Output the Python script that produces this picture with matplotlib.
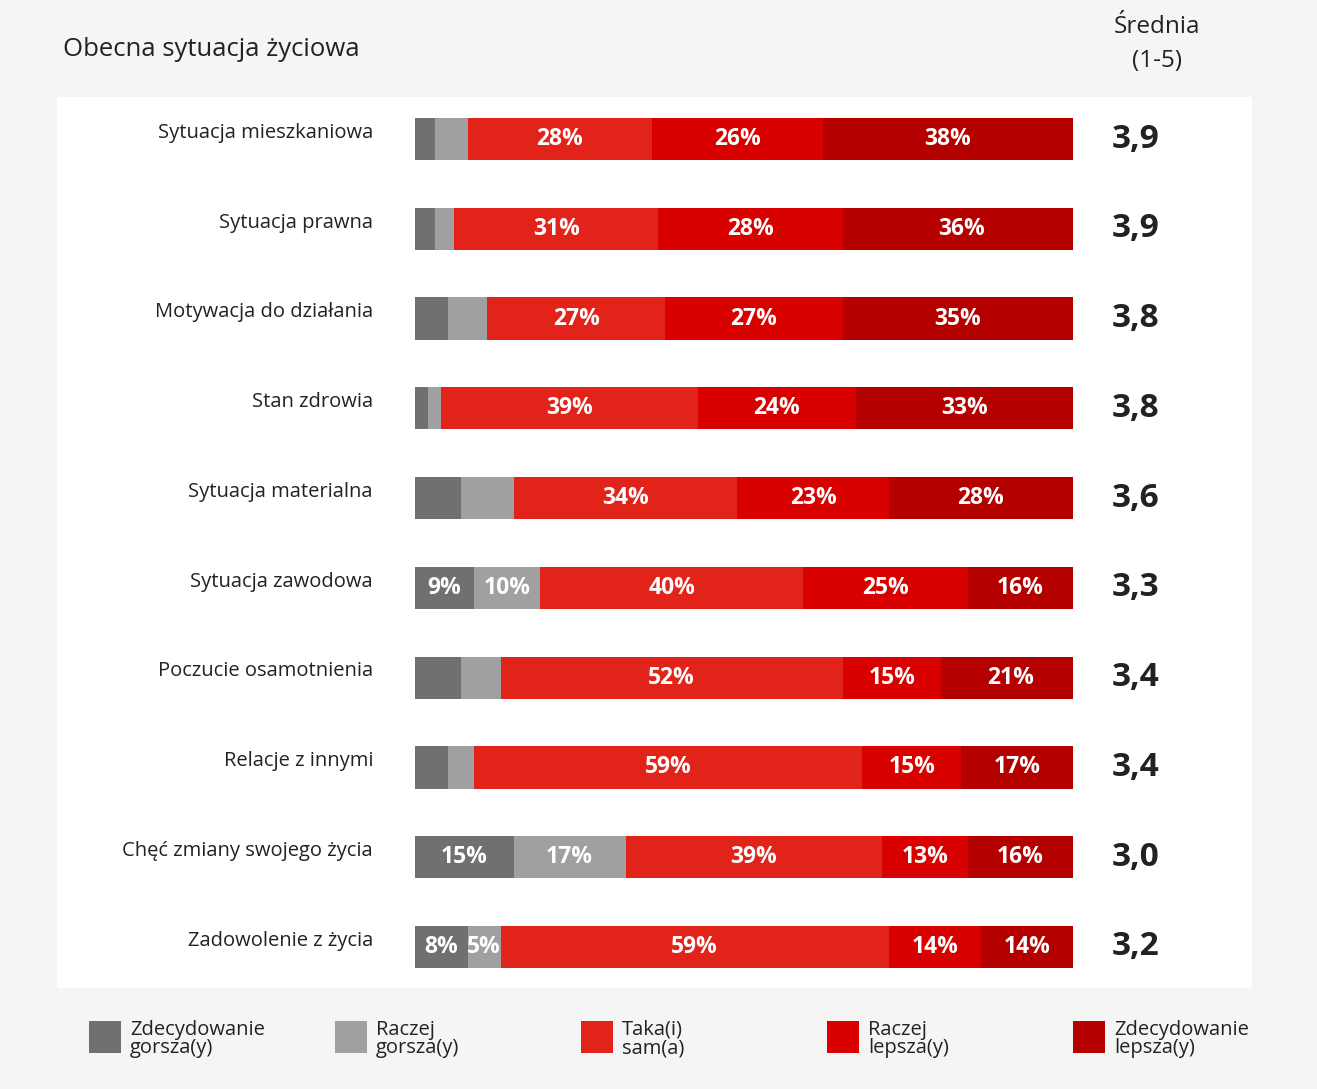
import matplotlib.pyplot as plt
from matplotlib.patches import Rectangle

plt.rcParams['font.family'] = ['Open Sans', 'DejaVu Sans']

kategorie = [
    "Sytuacja mieszkaniowa",
    "Sytuacja prawna",
    "Motywacja do działania",
    "Stan zdrowia",
    "Sytuacja materialna",
    "Sytuacja zawodowa",
    "Poczucie osamotnienia",
    "Relacje z innymi",
    "Chęć zmiany swojego życia",
    "Zadowolenie z życia",
]

zdec_gorsza = [3, 3, 5, 2, 7, 9, 7, 5, 15, 8]
raczej_gorsza = [5, 3, 6, 2, 8, 10, 6, 4, 17, 5]
taka_sama = [28, 31, 27, 39, 34, 40, 52, 59, 39, 59]
raczej_lepsza = [26, 28, 27, 24, 23, 25, 15, 15, 13, 14]
zdec_lepsza = [38, 36, 35, 33, 28, 16, 21, 17, 16, 14]

srednia = ["3,9", "3,9", "3,8", "3,8", "3,6", "3,3", "3,4", "3,4", "3,0", "3,2"]

# w których wierszach pokazane są etykiety szarych segmentów
etykiety_szare = [False, False, False, False, False, True, False, False, True, True]

legenda = [
    "Zdecydowanie\ngorsza(y)",
    "Raczej\ngorsza(y)",
    "Taka(i)\nsam(a)",
    "Raczej\nlepsza(y)",
    "Zdecydowanie\nlepsza(y)",
]
kolory = ["#707070", "#a0a0a0", "#e2231a", "#d90000", "#b50000"]

W, H = 1317, 1089
fig = plt.figure(figsize=(W / 100, H / 100), dpi=100)
fig.patch.set_facecolor("#f5f5f5")

# białe tło panelu
fig.patches.append(Rectangle((57 / W, 1 - 988 / H), (1252 - 57) / W, (988 - 97) / H,
                             transform=fig.transFigure, facecolor="white",
                             edgecolor="none", zorder=-5))

ax = fig.add_axes([415 / W, 1 - 988 / H, 658 / W, (988 - 97) / H])
ax.set_zorder(2)
ax.set_facecolor("none")
ax.set_xlim(0, 100)
ax.set_ylim(9.457, -0.468)
ax.axis("off")

serie = [zdec_gorsza, raczej_gorsza, taka_sama, raczej_lepsza, zdec_lepsza]
y = list(range(len(kategorie)))
lewo = [0] * len(kategorie)
for k, (wart, kol) in enumerate(zip(serie, kolory)):
    ax.barh(y, wart, left=lewo, height=0.47, color=kol, edgecolor="none")
    for i, v in enumerate(wart):
        if k >= 2 or etykiety_szare[i]:
            ax.text(lewo[i] + v / 2, i, f"{v}%", ha="center", va="center",
                    color="white", fontsize=16.5, fontweight="bold")
    lewo = [a + b for a, b in zip(lewo, wart)]

for i, nazwa in enumerate(kategorie):
    ax.text(-42 / 6.58, i - 0.07, nazwa, ha="right", va="center",
            fontsize=14.5, color="#222222", clip_on=False)
    ax.text(697 / 6.58, i, srednia[i], ha="left", va="center",
            fontsize=24, fontweight="bold", color="#222222", clip_on=False)

fig.text(63 / W, 1 - 50 / H, "Obecna sytuacja życiowa", ha="left", va="center",
         fontsize=18.5, color="#222222")
fig.text(1157 / W, 1 - 44 / H, "Średnia\n(1-5)", ha="center", va="center",
         fontsize=17.5, color="#222222", linespacing=1.55)

# legenda
for j, (lab, kol) in enumerate(zip(legenda, kolory)):
    x0 = 89 + 246 * j
    fig.patches.append(Rectangle((x0 / W, 1 - 1053 / H), 32 / W, 32 / H,
                                 transform=fig.transFigure, facecolor=kol,
                                 edgecolor="none"))
    fig.text((x0 + 41) / W, 1 - 1039 / H, lab, ha="left", va="center",
             fontsize=14.5, color="#222222", linespacing=0.9)

fig.savefig("out.png", dpi=100, facecolor=fig.get_facecolor())
